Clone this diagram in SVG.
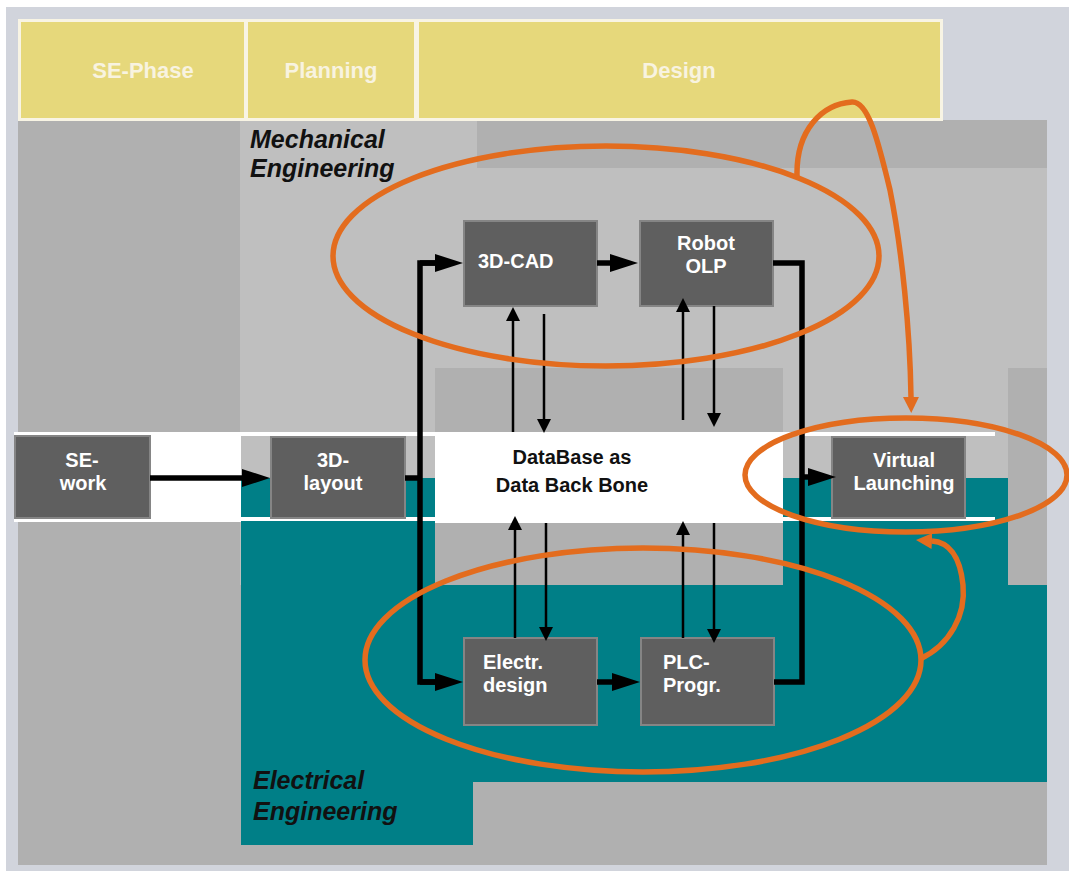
<svg xmlns="http://www.w3.org/2000/svg" width="1069" height="871" viewBox="0 0 1069 871">
<style>
.hdr{fill:#f8f3e0;font-family:"Liberation Sans",Arial,sans-serif;font-weight:bold;font-size:22px;text-anchor:middle}
.cell{fill:#e6d87b}
.box{fill:#5f5f5f;stroke:#858585;stroke-width:2}
.bt{fill:#ffffff;font-family:"Liberation Sans",Arial,sans-serif;font-weight:bold;font-size:20px}
.mid{text-anchor:middle}
.db{fill:#111111;font-family:"Liberation Sans",Arial,sans-serif;font-weight:bold;font-size:20px;text-anchor:middle}
.lbl{fill:#111111;font-family:"Liberation Sans",Arial,sans-serif;font-weight:bold;font-style:italic;font-size:25px}
.thick{fill:none;stroke:#000000;stroke-width:5.5;stroke-linejoin:miter;stroke-linecap:butt}
.thin{fill:none;stroke:#000000;stroke-width:2.5}
.orange{fill:none;stroke:#e36c1e;stroke-width:5.5}
</style>
<defs>
<marker id="bigArrow" markerUnits="userSpaceOnUse" viewBox="0 0 28 18" refX="0" refY="9" markerWidth="28" markerHeight="18" orient="auto">
<path d="M0,0 L28,9 L0,18 Z" fill="#000000"/>
</marker>
<marker id="thinArrow" markerUnits="userSpaceOnUse" viewBox="0 0 14 14" refX="0" refY="7" markerWidth="14" markerHeight="14" orient="auto">
<path d="M0,0 L14,7 L0,14 Z" fill="#000000"/>
</marker>
<marker id="orangeArrow" markerUnits="userSpaceOnUse" viewBox="0 0 16 16" refX="0" refY="8" markerWidth="16" markerHeight="16" orient="auto">
<path d="M0,0 L16,8 L0,16 Z" fill="#e36c1e"/>
</marker>
</defs>

<g id="background">
<rect x="0" y="0" width="1069" height="871" fill="#ffffff"/>
<rect x="6" y="7" width="1063" height="864" fill="#d1d4dc"/>
<rect x="18" y="120" width="1029" height="745" fill="#b0b0b0"/>
<rect x="240" y="120" width="237" height="50" fill="#bfbfbf"/>
<rect x="240" y="168" width="807" height="417" fill="#bfbfbf"/>
<rect x="1008" y="368" width="39" height="217" fill="#b0b0b0"/>
<rect x="435" y="368" width="348" height="217" fill="#b0b0b0"/>
<polygon points="241,478 435,478 435,585 783,585 783,478 1008,478 1008,585 1047,585 1047,782 473,782 473,845 241,845" fill="#007f87"/>
</g>

<g id="header">
<rect x="18" y="19" width="925" height="102" fill="#f8f4e4"/>
<rect class="cell" x="21" y="22" width="223" height="96"/>
<rect class="cell" x="248" y="22" width="166" height="96"/>
<rect class="cell" x="419" y="22" width="521" height="96"/>
<text class="hdr" x="143" y="78">SE-Phase</text>
<text class="hdr" x="331" y="78">Planning</text>
<text class="hdr" x="679" y="78">Design</text>
</g>

<g id="labels">
<text class="lbl" x="250" y="148">Mechanical</text>
<text class="lbl" x="250" y="177">Engineering</text>
<text class="lbl" x="253" y="789">Electrical</text>
<text class="lbl" x="253" y="820">Engineering</text>
</g>

<g id="database-band">
<rect x="14" y="432" width="227" height="90" fill="#ffffff"/>
<rect x="14" y="432" width="981" height="4" fill="#ffffff"/>
<rect x="21" y="517" width="974" height="4" fill="#ffffff"/>
<rect x="435" y="432" width="348" height="91" fill="#ffffff"/>
<text class="db" x="572" y="464">DataBase as</text>
<text class="db" x="572" y="492">Data Back Bone</text>
</g>

<g id="se-work">
<rect class="box" x="15" y="436" width="135" height="82"/>
<text class="bt mid" x="82" y="467">SE-</text>
<text class="bt mid" x="83" y="490">work</text>
</g>
<g id="layout-3d">
<rect class="box" x="271" y="437" width="134" height="81"/>
<text class="bt mid" x="333" y="467">3D-</text>
<text class="bt mid" x="333" y="490">layout</text>
</g>
<g id="cad-3d">
<rect class="box" x="464" y="221" width="133" height="85"/>
<text class="bt" x="478" y="268">3D-CAD</text>
</g>
<g id="robot-olp">
<rect class="box" x="640" y="221" width="133" height="85"/>
<text class="bt mid" x="706" y="250">Robot</text>
<text class="bt mid" x="706" y="273">OLP</text>
</g>
<g id="electr-design">
<rect class="box" x="464" y="638" width="133" height="87"/>
<text class="bt" x="483" y="669">Electr.</text>
<text class="bt" x="483" y="692">design</text>
</g>
<g id="plc-progr">
<rect class="box" x="641" y="638" width="133" height="87"/>
<text class="bt" x="663" y="669">PLC-</text>
<text class="bt" x="663" y="692">Progr.</text>
</g>
<g id="virtual-launching">
<rect class="box" x="832" y="437" width="133" height="81"/>
<text class="bt mid" x="904" y="467">Virtual</text>
<text class="bt mid" x="904" y="490">Launching</text>
</g>

<g id="connectors">
<path class="thick" d="M150,478 H242" marker-end="url(#bigArrow)"/>
<path class="thick" d="M405,478 H420"/>
<path class="thick" d="M435,263 H420 V682 H435"/>
<path class="thick" d="M420,263 H435" marker-end="url(#bigArrow)"/>
<path class="thick" d="M420,682 H435" marker-end="url(#bigArrow)"/>
<path class="thick" d="M597,263 H610" marker-end="url(#bigArrow)"/>
<path class="thick" d="M597,682 H612" marker-end="url(#bigArrow)"/>
<path class="thick" d="M773,263 H802 V682 H774"/>
<path class="thick" d="M802,477 H808" marker-end="url(#bigArrow)"/>
<path class="thin" d="M513,432 V321" marker-end="url(#thinArrow)"/>
<path class="thin" d="M544,314 V419" marker-end="url(#thinArrow)"/>
<path class="thin" d="M683,420 V312" marker-end="url(#thinArrow)"/>
<path class="thin" d="M714,306 V413" marker-end="url(#thinArrow)"/>
<path class="thin" d="M515,638 V530" marker-end="url(#thinArrow)"/>
<path class="thin" d="M546,523 V627" marker-end="url(#thinArrow)"/>
<path class="thin" d="M683,638 V535" marker-end="url(#thinArrow)"/>
<path class="thin" d="M714,523 V629" marker-end="url(#thinArrow)"/>
</g>

<g id="highlights">
<ellipse class="orange" cx="606" cy="256" rx="273" ry="110"/>
<ellipse class="orange" cx="643" cy="660" rx="278" ry="112"/>
<ellipse class="orange" cx="906" cy="475" rx="161" ry="57"/>
<path class="orange" d="M797,176 C796,130 822,104 852,102 C868,101 878,140 890,190 C902,250 910,330 911,397" marker-end="url(#orangeArrow)"/>
<path class="orange" d="M920,659 C950,645 966,615 963,585 C960,555 948,542 932,541" marker-end="url(#orangeArrow)"/>
</g>
</svg>
